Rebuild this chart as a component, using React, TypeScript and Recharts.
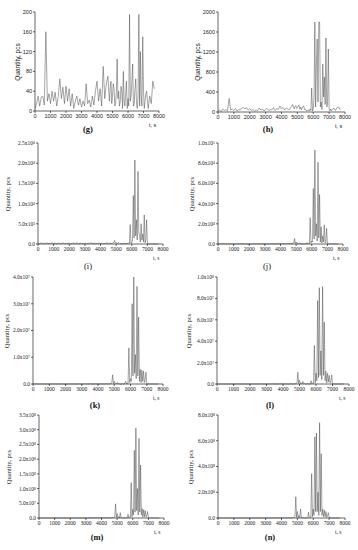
import React from "react";
import { LineChart, Line, XAxis, YAxis } from "recharts";

// sampling is coarser before and after the burst, 50 s inside it
const times = [
  0, 100, 200, 300, 400, 500, 600, 700, 800, 900,
  1000, 1100, 1200, 1300, 1400, 1500, 1600, 1700, 1800, 1900,
  2000, 2100, 2200, 2300, 2400, 2500, 2600, 2700, 2800, 2900,
  3000, 3100, 3200, 3300, 3400, 3500, 3600, 3700, 3800, 3900,
  4000, 4100, 4200, 4300, 4400, 4500, 4600, 4700,
  4800, 4850, 4900, 4950, 5000, 5050, 5100, 5150,
  5200, 5250, 5300, 5350, 5400, 5450, 5500, 5550,
  5600, 5650, 5700, 5750, 5800, 5850, 5900, 5950,
  6000, 6050, 6100, 6150, 6200, 6250, 6300, 6350,
  6400, 6450, 6500, 6550, 6600, 6650, 6700, 6750,
  6800, 6850, 6900, 6950, 7000, 7050, 7100, 7150,
  7200, 7300, 7400, 7500, 7600, 7700,
];

const gValues = [
  5, 15, 30, 10, 28, 30, 12, 160, 20, 35,
  15, 40, 20, 38, 10, 30, 65, 25, 48, 15,
  50, 20, 45, 10, 35, 5, 20, 30, 12, 25,
  8, 20, 10, 55, 15, 22, 8, 30, 12, 40,
  60, 20, 45, 10, 90, 25, 55, 70,
  20, 45, 60, 15, 30, 55, 45, 10,
  15, 40, 105, 25, 40, 10, 20, 50,
  40, 5, 80, 20, 10, 35, 60, 5,
  25, 10, 195, 20, 30, 60, 95, 10,
  15, 45, 65, 15, 5, 30, 195, 10,
  120, 30, 10, 150, 40, 5, 20, 35,
  40, 5, 30, 15, 60, 45,
];

const hValues = [
  20, 40, 10, 60, 30, 50, 20, 270, 40, 60,
  30, 70, 20, 50, 40, 80, 90, 60, 90, 40,
  70, 30, 50, 20, 40, 30, 80, 40, 60, 20,
  50, 70, 30, 50, 40, 90, 30, 70, 50, 120,
  60, 90, 40, 80, 60, 50, 100, 150,
  60, 110, 130, 70, 90, 120, 140, 60,
  100, 40, 80, 110, 120, 50, 60, 30,
  20, 40, 40, 20, 60, 30, 480, 20,
  60, 300, 1800, 100, 960, 1460, 200, 1800,
  1800, 100, 200, 50, 960, 300, 700, 150,
  1480, 100, 150, 1260, 60, 20, 60, 30,
  40, 80, 30, 90, 100, 40,
];

const iValues = [
  150, 50, 300, 100, 200, 80, 250, 60, 150, 300,
  100, 200, 50, 250, 100, 150, 300, 80, 200, 100,
  250, 60, 150, 200, 100, 300, 50, 200, 150, 100,
  250, 80, 200, 150, 300, 100, 200, 50, 150, 250,
  100, 200, 80, 150, 300, 100, 200, 150,
  200, 300, 900, 200, 400, 100, 200, 300,
  300, 100, 100, 50, 50, 100, 100, 50,
  50, 100, 200, 100, 300, 100, 4800, 200,
  300, 1000, 12000, 1500, 20800, 2000, 6000, 1000,
  18000, 3000, 2000, 500, 5000, 1000, 2500, 500,
  7200, 300, 1000, 6000, 200, 100, 50, 0,
  50, 0, 50, 0, 0, 0,
];

const jValues = [
  0, 200, 0, 300, 100, 0, 200, 0, 100, 0,
  200, 0, 100, 0, 300, 0, 100, 200, 0, 100,
  0, 200, 0, 100, 0, 300, 0, 100, 0, 200,
  100, 0, 200, 0, 300, 100, 0, 200, 100, 300,
  200, 400, 100, 300, 200, 500, 300, 200,
  500, 1000, 5500, 500, 2000, 300, 800, 200,
  1200, 200, 300, 100, 100, 100, 200, 100,
  100, 300, 1500, 200, 500, 300, 26000, 1000,
  3000, 2000, 55000, 5000, 93000, 8000, 20000, 3000,
  81000, 6000, 49000, 2000, 17000, 1000, 8000, 2000,
  19000, 1000, 2000, 15500, 300, 100, 300, 0,
  0, 100, 0, 0, 0, 0,
];

const kValues = [
  0, 0, 5e4, 0, 0, 3e4, 0, 0, 0, 4e4,
  0, 0, 0, 2e4, 0, 0, 5e4, 0, 0, 0,
  3e4, 0, 0, 0, 2e4, 0, 0, 0, 4e4, 0,
  0, 0, 5e4, 0, 0, 1e5, 0, 0, 5e4, 0,
  1e5, 0, 5e4, 0, 0, 1e5, 0, 5e4,
  2e5, 5e5, 3.4e6, 2e5, 1e6, 1e5, 3e5, 1e5,
  6e5, 1e5, 1e5, 0, 0, 0, 1e5, 0,
  0, 1e5, 1e6, 1e5, 3e5, 2e5, 1.35e7, 5e5,
  2e6, 1e6, 3.0e7, 3e6, 4.0e7, 4e6, 1.1e7, 2e6,
  3.65e7, 3e6, 2.5e7, 1e6, 5.5e6, 5e5, 5.2e6, 1e6,
  4.8e6, 5e5, 1.5e6, 4.4e6, 1e5, 0, 1e5, 0,
  0, 0, 0, 0, 0, 0,
];

const lValues = [
  0, 0, 0, 1e5, 0, 0, 0, 0, 1e5, 0,
  0, 0, 1e5, 0, 0, 0, 0, 1e5, 0, 0,
  0, 1e5, 0, 0, 0, 0, 1e5, 0, 0, 0,
  0, 0, 1e5, 0, 2e5, 0, 0, 1e5, 0, 2e5,
  2e5, 0, 1e5, 0, 0, 2e5, 0, 1e5,
  5e5, 1e6, 1.1e7, 5e5, 3.5e6, 3e5, 1e6, 2e5,
  2.5e6, 2e5, 5e5, 0, 0, 0, 3e5, 0,
  0, 2e5, 3e6, 2e5, 1e6, 5e5, 3.6e7, 1e6,
  1e7, 3e6, 7.8e7, 6e6, 9.0e7, 8e6, 3.1e7, 4e6,
  9.1e7, 8e6, 5.8e7, 3e6, 1.2e7, 1e6, 1.0e7, 2e6,
  8e6, 1e6, 3e6, 8.5e6, 2e5, 0, 2e5, 0,
  0, 0, 0, 0, 0, 0,
];

const mValues = [
  0, 0, 0, 0, 5e5, 0, 0, 0, 0, 0,
  0, 5e5, 0, 0, 0, 0, 0, 5e5, 0, 0,
  0, 0, 0, 5e5, 0, 0, 0, 0, 5e5, 0,
  0, 0, 5e5, 1e6, 0, 5e5, 0, 1e6, 0, 5e5,
  1e6, 0, 5e5, 0, 1e6, 5e5, 0, 1e6,
  2e6, 4e6, 4.8e7, 2e6, 1.5e7, 1e6, 5e6, 1e6,
  1.8e7, 1e6, 2e6, 0, 0, 0, 1e6, 0,
  0, 1e6, 1.3e7, 1e6, 4e6, 2e6, 1.2e8, 4e6,
  3e7, 1e7, 2.3e8, 2e7, 3.05e8, 2.5e7, 1.0e8, 1e7,
  2.7e8, 2e7, 1.8e8, 1e7, 3.2e7, 3e6, 2.8e7, 5e6,
  2.5e7, 3e6, 8e6, 2.2e7, 1e6, 0, 1e6, 0,
  0, 0, 0, 0, 0, 0,
];

const nValues = [
  0, 0, 0, 1e6, 0, 0, 0, 0, 1e6, 0,
  0, 0, 1e6, 0, 0, 0, 1e6, 0, 0, 0,
  0, 1e6, 0, 0, 0, 1e6, 0, 0, 0, 0,
  1e6, 0, 0, 2e6, 0, 1e6, 0, 2e6, 0, 1e6,
  2e6, 0, 1e6, 0, 3e6, 1e6, 0, 2e6,
  5e6, 1e7, 1.65e8, 5e6, 5e7, 3e6, 2e7, 3e6,
  7e7, 3e6, 5e6, 0, 0, 0, 3e6, 0,
  0, 3e6, 4.5e7, 3e6, 1e7, 5e6, 3.45e8, 1e7,
  7e7, 2e7, 6.3e8, 5e7, 6.6e8, 5e7, 2.0e8, 2e7,
  7.4e8, 5e7, 5.0e8, 2e7, 7e7, 1e7, 6e7, 1e7,
  5e7, 5e6, 2e7, 4e7, 2e6, 0, 2e6, 0,
  0, 0, 0, 0, 0, 0,
];

const xTicks = [0, 1000, 2000, 3000, 4000, 5000, 6000, 7000, 8000];

const gTicks = [0, 40, 80, 120, 160, 200];
const hTicks = [0, 400, 800, 1200, 1600, 2000];
const iTicks = [0, 5000, 10000, 15000, 20000, 25000];
const iTickLabels = ["0.0", "5.0x10³", "1.0x10⁴", "1.5x10⁴", "2.0x10⁴", "2.5x10⁴"];
const jTicks = [0, 20000, 40000, 60000, 80000, 100000];
const jTickLabels = ["0.0", "2.0x10⁴", "4.0x10⁴", "6.0x10⁴", "8.0x10⁴", "1.0x10⁵"];
const kTicks = [0, 1e7, 2e7, 3e7, 4e7];
const kTickLabels = ["0.0", "1.0x10⁷", "2.0x10⁷", "3.0x10⁷", "4.0x10⁷"];
const lTicks = [0, 2e7, 4e7, 6e7, 8e7, 1e8];
const lTickLabels = ["0.0", "2.0x10⁷", "4.0x10⁷", "6.0x10⁷", "8.0x10⁷", "1.0x10⁸"];
const mTicks = [0, 5e7, 1e8, 1.5e8, 2e8, 2.5e8, 3e8, 3.5e8];
const mTickLabels = ["0.0", "5.0x10⁷", "1.0x10⁸", "1.5x10⁸", "2.0x10⁸", "2.5x10⁸", "3.0x10⁸", "3.5x10⁸"];
const nTicks = [0, 2e8, 4e8, 6e8, 8e8];
const nTickLabels = ["0.0", "2.0x10⁸", "4.0x10⁸", "6.0x10⁸", "8.0x10⁸"];

const SANS = "'Liberation Sans', Arial, sans-serif";
const SERIF = "'Liberation Serif', 'Times New Roman', serif";

const W = 358;
const H = 550;
const YW = 30;
const XH = 20;

interface PanelProps {
  values: number[];
  yTicks: number[];
  yLabels?: string[];
  box: { l: number; r: number; t: number; b: number };
  font: string;
  letter: string;
  letterX: number;
  letterY: number;
  letterBold: boolean;
  titleX: number;
}

function Panel({ values, yTicks, yLabels, box, font, letter, letterX, letterY, letterBold, titleX }: PanelProps) {
  const data = times.map((t, i) => ({ t, v: values[i] }));
  const yMax = yTicks[yTicks.length - 1];
  const tickStyle = { fontSize: 5.5, fill: "#222", fontFamily: font };
  return (
    <>
      <div style={{ position: "absolute", left: 0, top: 0 }}>
        <LineChart
          width={W}
          height={H}
          data={data}
          margin={{ top: box.t, left: box.l - YW, right: W - box.r, bottom: H - box.b - XH }}
        >
          <XAxis
            dataKey="t"
            type="number"
            domain={[0, 8000]}
            ticks={xTicks}
            interval={0}
            height={XH}
            tick={tickStyle}
            tickSize={2}
            tickMargin={1}
            axisLine={{ stroke: "#000", strokeWidth: 0.6 }}
            tickLine={{ stroke: "#000", strokeWidth: 0.6 }}
          />
          <YAxis
            type="number"
            domain={[0, yMax]}
            ticks={yTicks}
            interval={0}
            width={YW}
            tick={tickStyle}
            tickSize={2}
            tickMargin={1}
            tickFormatter={(v: number) => {
              if (!yLabels) return String(v);
              const idx = yTicks.indexOf(v);
              return idx >= 0 ? yLabels[idx] : String(v);
            }}
            axisLine={{ stroke: "#000", strokeWidth: 0.6 }}
            tickLine={{ stroke: "#000", strokeWidth: 0.6 }}
          />
          <Line
            type="linear"
            dataKey="v"
            stroke="#4a4a4a"
            strokeWidth={0.5}
            dot={false}
            isAnimationActive={false}
          />
        </LineChart>
      </div>
      <div
        style={{
          position: "absolute",
          left: titleX,
          top: (box.t + box.b) / 2,
          transform: "translate(-50%, -50%) rotate(-90deg)",
          fontFamily: font,
          fontSize: 6.5,
          color: "#222",
          whiteSpace: "nowrap",
        }}
      >
        Quantity, pcs
      </div>
      <div
        style={{
          position: "absolute",
          left: box.r - 10,
          top: box.b + 11,
          fontFamily: font,
          fontSize: 5.5,
          color: "#222",
          whiteSpace: "nowrap",
        }}
      >
        t, s
      </div>
      <div
        style={{
          position: "absolute",
          left: letterX,
          top: letterY,
          transform: "translate(-50%, -50%)",
          fontFamily: SERIF,
          fontWeight: letterBold ? "bold" : "normal",
          fontSize: 8.5,
          color: "#111",
          whiteSpace: "nowrap",
        }}
      >
        {letter}
      </div>
    </>
  );
}

export default function App() {
  return (
    <div
      style={{
        position: "absolute",
        left: 0,
        top: 0,
        width: W,
        height: H,
        background: "#fff",
        overflow: "hidden",
      }}
    >
      <Panel values={gValues} yTicks={gTicks} box={{ l: 35, r: 159, t: 12, b: 111 }} font={SANS}
        letter="(g)" letterX={88} letterY={129} letterBold titleX={17} />
      <Panel values={hValues} yTicks={hTicks} box={{ l: 218, r: 345, t: 12, b: 112 }} font={SANS}
        letter="(h)" letterX={268} letterY={129} letterBold titleX={197} />
      <Panel values={iValues} yTicks={iTicks} yLabels={iTickLabels} box={{ l: 38, r: 163, t: 143, b: 244 }} font={SERIF}
        letter="(i)" letterX={88} letterY={266} letterBold={false} titleX={7} />
      <Panel values={jValues} yTicks={jTicks} yLabels={jTickLabels} box={{ l: 218, r: 343, t: 143, b: 244 }} font={SERIF}
        letter="(j)" letterX={267} letterY={266} letterBold={false} titleX={191} />
      <Panel values={kValues} yTicks={kTicks} yLabels={kTickLabels} box={{ l: 33, r: 163, t: 277, b: 384 }} font={SERIF}
        letter="(k)" letterX={95} letterY={405} letterBold titleX={6} />
      <Panel values={lValues} yTicks={lTicks} yLabels={lTickLabels} box={{ l: 217, r: 349, t: 277, b: 384 }} font={SERIF}
        letter="(l)" letterX={270} letterY={405} letterBold titleX={188} />
      <Panel values={mValues} yTicks={mTicks} yLabels={mTickLabels} box={{ l: 39, r: 164, t: 415, b: 518 }} font={SERIF}
        letter="(m)" letterX={97} letterY={537} letterBold titleX={8} />
      <Panel values={nValues} yTicks={nTicks} yLabels={nTickLabels} box={{ l: 218, r: 345, t: 415, b: 518 }} font={SERIF}
        letter="(n)" letterX={270} letterY={537} letterBold titleX={190} />
    </div>
  );
}
